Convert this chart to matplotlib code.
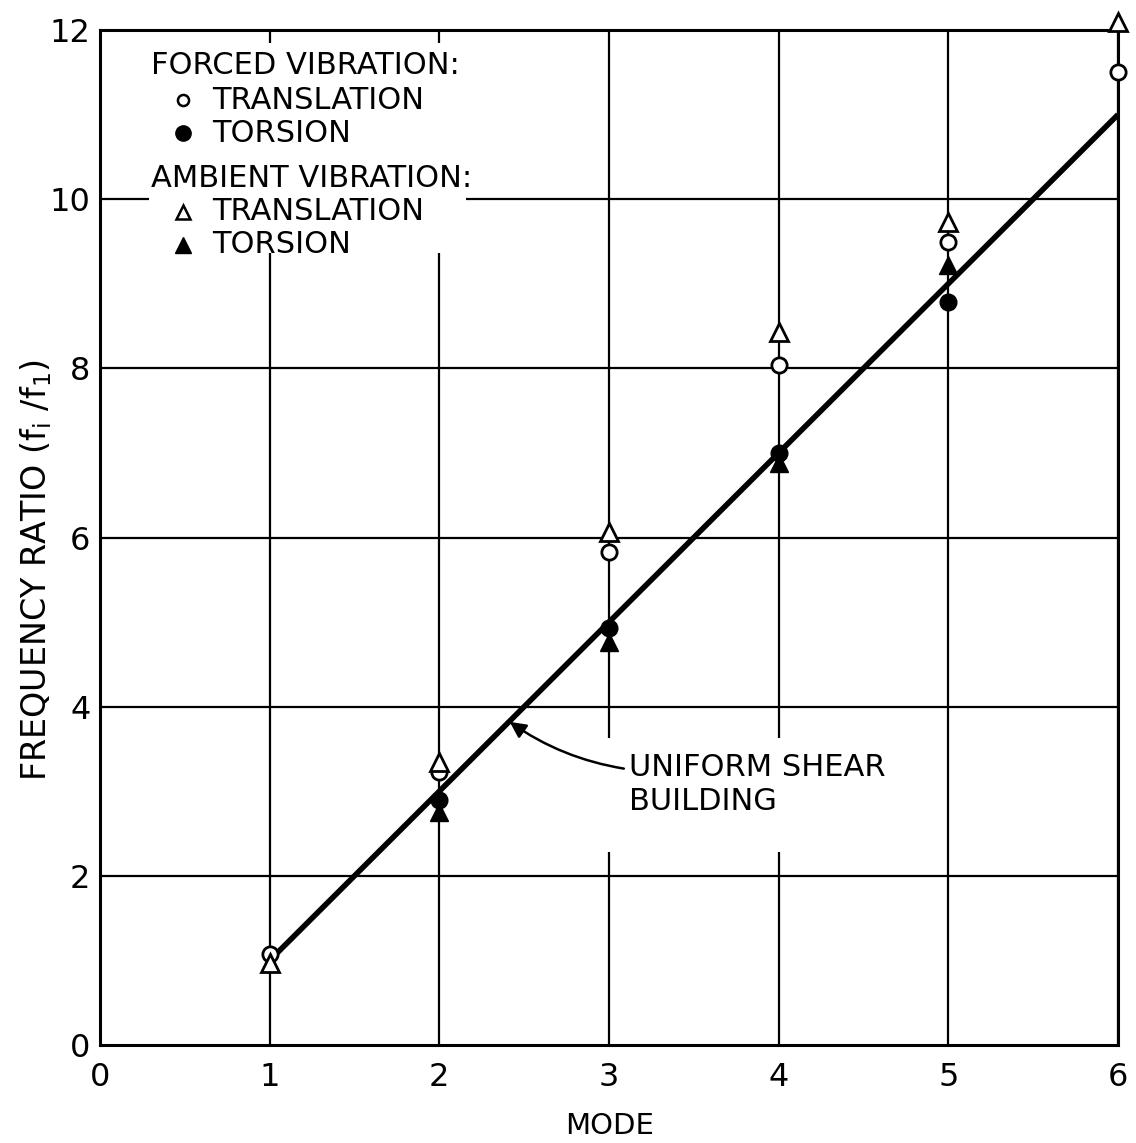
import matplotlib
matplotlib.use("Agg")
import matplotlib.pyplot as plt
from matplotlib.patches import Rectangle

plt.rcParams['font.family'] = ['DejaVu Sans']

modes = [1, 2, 3, 4, 5, 6]
forced_translation = [1.08, 3.23, 5.83, 8.04, 9.49, 11.50]
torsion_modes = [2, 3, 4, 5]
forced_torsion = [2.90, 4.93, 7.00, 8.78]
ambient_translation = [0.97, 3.35, 6.06, 8.43, 9.73, 12.09]
ambient_torsion = [2.75, 4.76, 6.88, 9.22]

# Uniform shear building: f_i / f_1 = 2i - 1
shear_modes = [1, 6]
shear_ratio = [1, 11]

x_ticks = [0, 1, 2, 3, 4, 5, 6]
y_ticks = [0, 2, 4, 6, 8, 10, 12]

fig = plt.figure(figsize=(11.36, 11.43), dpi=100)
ax = fig.add_axes([100 / 1136, 1 - 1045 / 1143, 1018 / 1136, 1015 / 1143])
ax.set_xlim(0, 6)
ax.set_ylim(0, 12)

for x in x_ticks[1:]:
    ax.axvline(x, color='black', lw=1.6, zorder=1)
for y in y_ticks[1:]:
    ax.axhline(y, color='black', lw=1.6, zorder=1)

for s in ax.spines.values():
    s.set_linewidth(2.2)
ax.tick_params(length=0, labelsize=23)
ax.tick_params(axis='x', pad=12)
ax.tick_params(axis='y', pad=7)
ax.set_xticks(x_ticks)
ax.set_yticks(y_ticks)
ax.set_xticklabels([str(v) for v in x_ticks])
ax.set_yticklabels([str(v) for v in y_ticks])

ax.plot(shear_modes, shear_ratio, color='black', lw=4.0, zorder=3, solid_capstyle='butt')

ms = 11
ax.plot(modes, forced_translation, 'o', ms=ms, mfc='white', mec='black', mew=2.0,
        zorder=5, clip_on=False)
ax.plot(torsion_modes, forced_torsion, 'o', ms=ms + 1, mfc='black', mec='black',
        zorder=6, clip_on=False)
ax.plot(modes, ambient_translation, '^', ms=ms + 2, mfc='white', mec='black', mew=2.0,
        zorder=5, clip_on=False)
ax.plot(torsion_modes, ambient_torsion, '^', ms=ms + 2, mfc='black', mec='black',
        zorder=6, clip_on=False)

# Key box
ax.add_patch(Rectangle((0.29, 9.36), 1.87, 2.49, facecolor='white', edgecolor='none',
                       zorder=4))
fs = 22
ax.text(0.30, 11.58, 'FORCED VIBRATION:', fontsize=fs, va='center', ha='left', zorder=7)
ax.plot([0.49], [11.17], 'o', ms=8, mfc='white', mec='black', mew=1.8, zorder=7)
ax.text(0.66, 11.17, 'TRANSLATION', fontsize=fs, va='center', ha='left', zorder=7)
ax.plot([0.49], [10.78], 'o', ms=11, mfc='black', mec='black', zorder=7)
ax.text(0.66, 10.78, 'TORSION', fontsize=fs, va='center', ha='left', zorder=7)
ax.text(0.30, 10.25, 'AMBIENT VIBRATION:', fontsize=fs, va='center', ha='left', zorder=7)
ax.plot([0.49], [9.85], '^', ms=10, mfc='white', mec='black', mew=1.8, zorder=7)
ax.text(0.66, 9.85, 'TRANSLATION', fontsize=fs, va='center', ha='left', zorder=7)
ax.plot([0.49], [9.46], '^', ms=11, mfc='black', mec='black', zorder=7)
ax.text(0.66, 9.46, 'TORSION', fontsize=fs, va='center', ha='left', zorder=7)

# Clear the grid behind the line label
ax.add_patch(Rectangle((2.96, 2.28), 1.80, 1.35, facecolor='white', edgecolor='none',
                       zorder=2))
ax.annotate('UNIFORM SHEAR\nBUILDING', xy=(2.415, 3.82), xytext=(3.12, 3.08),
            fontsize=fs, va='center', ha='left', linespacing=1.2,
            arrowprops=dict(arrowstyle='-|>', color='black', lw=1.8,
                            mutation_scale=24, shrinkA=2, shrinkB=0,
                            connectionstyle='arc3,rad=-0.12',
                            relpos=(0.0, 0.74)),
            zorder=7)

ax.set_xlabel('MODE', fontsize=21, va='center')
ax.xaxis.set_label_coords((610 - 100) / 1018, (1045 - 1126) / 1015)
ax.set_ylabel(r'FREQUENCY RATIO (f$_\mathregular{i}$ /f$_\mathregular{1}$)',
              fontsize=24, va='center')
ax.yaxis.set_label_coords((36 - 100) / 1018, (1045 - 570) / 1015)

fig.savefig('out.png', dpi=100, facecolor='white')
